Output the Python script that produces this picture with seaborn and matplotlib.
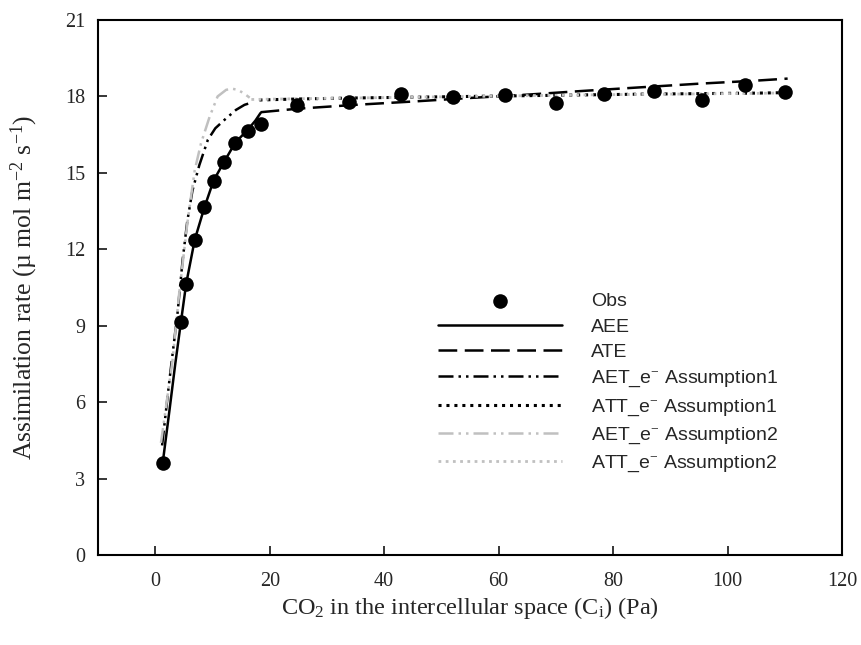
import matplotlib
matplotlib.use("Agg")
from matplotlib import pyplot as plt
import pandas as pd
import seaborn as sns

# Observed points
obs_x = [1.3, 4.5, 5.4, 6.9, 8.6, 10.2, 12.0, 14.0, 16.2, 18.4, 24.7, 33.8,
         43.0, 52.0, 61.1, 70.1, 78.5, 87.2, 95.5, 103.1, 110.1]
obs_y = [3.6, 9.16, 10.64, 12.37, 13.65, 14.70, 15.42, 16.19, 16.63, 16.93, 17.65, 17.77,
         18.10, 17.97, 18.05, 17.73, 18.09, 18.23, 17.86, 18.45, 18.19]

# Model curves
aee_x = [1.3, 2.5, 3.5, 4.5, 5.4, 6.9, 8.6, 10.2, 12.0, 14.0, 16.2, 17.5, 18.4]
aee_y = [3.6, 5.7, 7.5, 9.16, 10.64, 12.37, 13.65, 14.70, 15.42, 16.19, 16.70, 17.05, 17.35]

ate_x = [18.4, 25, 35, 45, 55, 65, 75, 85, 95, 105, 110.5]
ate_y = [17.38, 17.52, 17.67, 17.80, 17.94, 18.07, 18.22, 18.36, 18.50, 18.62, 18.70]

aet1_x = [1.2, 2.5, 3.9, 4.8, 5.6, 6.5, 7.7, 9.2, 10.5, 12.1, 14.1, 15.6, 16.3]
aet1_y = [4.3, 6.9, 9.5, 11.6, 13.1, 14.3, 15.3, 16.3, 16.75, 17.08, 17.47, 17.67, 17.72]

att1_x = [18.2, 25, 35, 45, 55, 65, 75, 85, 95, 105, 110.5]
att1_y = [17.86, 17.90, 17.94, 17.97, 18.00, 18.03, 18.06, 18.09, 18.11, 18.13, 18.15]

aet2_x = [1.0, 3.0, 4.2, 5.6, 6.9, 8.0, 9.5, 10.9, 12.4, 13.5, 14.4, 15.5, 16.5]
aet2_y = [4.4, 7.6, 10.3, 13.0, 15.1, 16.16, 17.2, 18.0, 18.26, 18.30, 18.26, 18.12, 17.95]

att2_x = [16.8, 25, 35, 45, 55, 65, 75, 85, 95, 105, 110.5]
att2_y = [17.88, 17.91, 17.94, 17.97, 18.00, 18.03, 18.06, 18.08, 18.10, 18.12, 18.14]

x_ticks = [0, 20, 40, 60, 80, 100, 120]
y_ticks = [0, 3, 6, 9, 12, 15, 18, 21]

sns.set_style("ticks")
plt.rcParams['font.family'] = ['Liberation Serif', 'DejaVu Serif']
plt.rcParams['mathtext.fontset'] = 'custom'
plt.rcParams['mathtext.rm'] = 'Liberation Serif'
plt.rcParams['mathtext.it'] = 'Liberation Serif:italic'

fig = plt.figure(figsize=(8.62, 6.45), dpi=100)
ax = fig.add_axes([98 / 862, 1 - 555 / 645, 744 / 862, 535 / 645])

gray = "#c0c0c0"
curves = [
    ("AEE", aee_x, aee_y, "black", "-", 1.8),
    ("ATE", ate_x, ate_y, "black", (0, (7.5, 3)), 1.8),
    ("AET_e$^{-}$ Assumption1", aet1_x, aet1_y, "black", (0, (6, 2, 1, 2, 1, 2)), 1.8),
    ("ATT_e$^{-}$ Assumption1", att1_x, att1_y, "black", (0, (1, 1.6)), 2.2),
    ("AET_e$^{-}$ Assumption2", aet2_x, aet2_y, gray, (0, (6, 2, 1, 2, 1, 2)), 1.8),
    ("ATT_e$^{-}$ Assumption2", att2_x, att2_y, gray, (0, (1, 1.6)), 2.0),
]

for label, xs, ys, color, ls, lw in curves:
    df = pd.DataFrame({"x": xs, "y": ys})
    sns.lineplot(data=df, x="x", y="y", ax=ax, color=color, linestyle=ls,
                 linewidth=lw, label=label, sort=False)

obs_df = pd.DataFrame({"x": obs_x, "y": obs_y})
sns.scatterplot(data=obs_df, x="x", y="y", ax=ax, color="black", s=110,
                edgecolor="black", linewidth=0, label="Obs", zorder=5)

ax.set_xlim(-10, 120)
ax.set_ylim(0, 21)
ax.set_xticks(x_ticks)
ax.set_yticks(y_ticks)
ax.tick_params(direction="in", length=6.5, width=1.3, labelsize=14.5,
               top=False, right=False)
ax.tick_params(axis="x", pad=12)
ax.tick_params(axis="y", pad=9)
for sp in ax.spines.values():
    sp.set_linewidth(1.5)
    sp.set_color("black")
    sp.set_visible(True)

ax.set_xlabel(r"CO$_2$ in the intercellular space (C$_\mathrm{i}$) (Pa)", fontsize=17.5)
ax.set_ylabel("Assimilation rate (\u00b5 mol m$^{-2}$ s$^{-1}$)", fontsize=18.5)
ax.xaxis.set_label_coords(0.5, -0.074)
ax.yaxis.set_label_coords(-0.078, 0.5)

handles, labels = ax.get_legend_handles_labels()
order = [labels.index("Obs")] + [i for i, l in enumerate(labels) if l != "Obs"]
leg = ax.legend([handles[i] for i in order], [labels[i] for i in order],
                loc="upper left", bbox_to_anchor=(0.457, 0.49), frameon=False,
                borderpad=0, borderaxespad=0, handlelength=6.4, handletextpad=1.45,
                labelspacing=0.4,
                prop={"family": ["Liberation Sans", "DejaVu Sans"], "size": 14})

fig.savefig("out.png", dpi=100)
